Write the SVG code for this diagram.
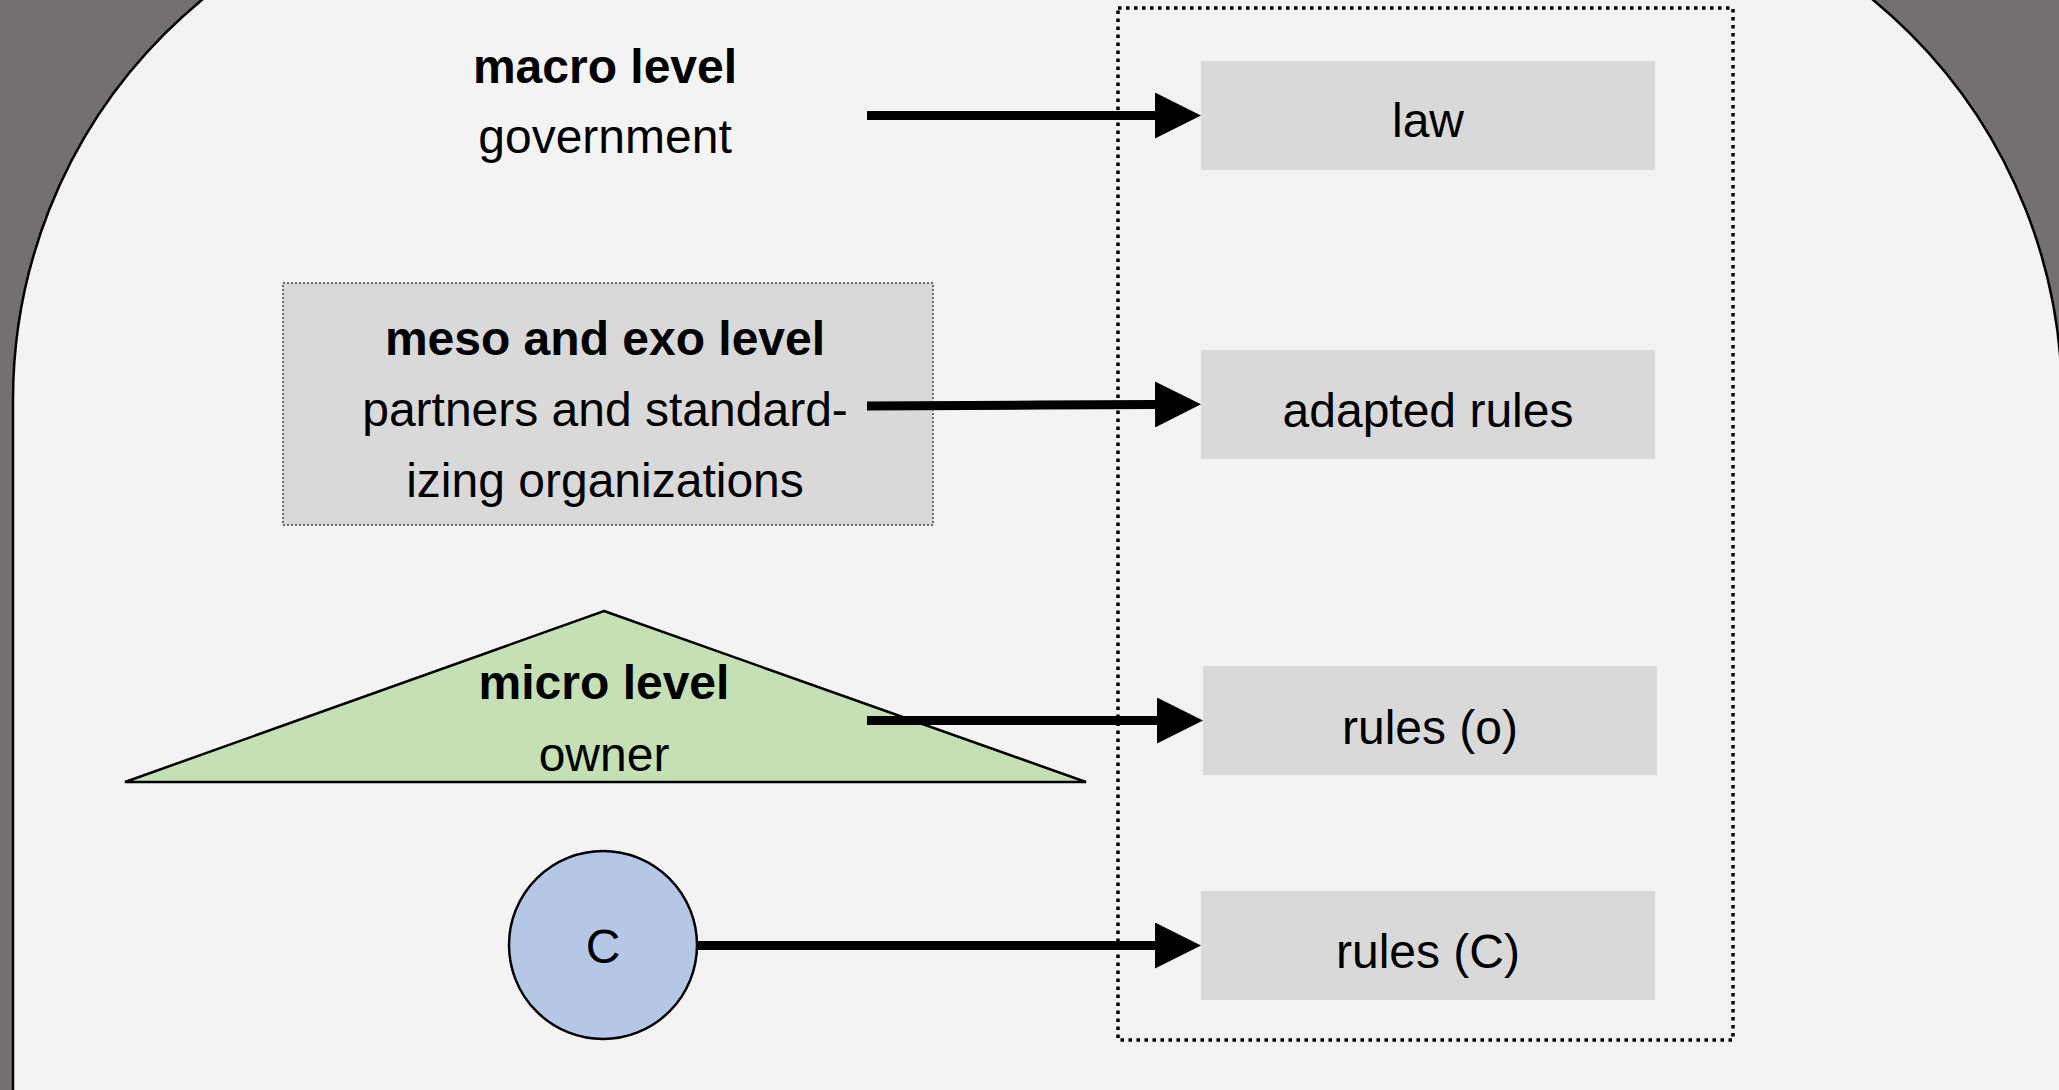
<svg xmlns="http://www.w3.org/2000/svg" width="2059" height="1090" viewBox="0 0 2059 1090">
  <defs>
    <style>
      .t { font-family: "Liberation Sans", Arial, sans-serif; font-size: 48px; fill: #000; text-anchor: middle; }
      .b { font-weight: bold; }
      .box { fill: #d9d9d9; }
      .conn { fill: none; stroke: #000; stroke-width: 9; }
    </style>
    <marker id="ah" viewBox="0 0 46 46" markerWidth="46" markerHeight="46" refX="0" refY="23" orient="auto" markerUnits="userSpaceOnUse">
      <path d="M0,0 L46,23 L0,46 Z" fill="#000"/>
    </marker>
  </defs>

  <rect x="0" y="0" width="2059" height="1090" fill="#747070"/>
  <path id="frame" d="M13,1100 V400 A518,518 0 0 1 531,-118 H1544 A518,518 0 0 1 2062,400 V1100 Z" fill="#f3f3f3" stroke="#000" stroke-width="2.5"/>

  <g id="container">
    <rect x="1118" y="8" width="615" height="1032" fill="none" stroke="#000" stroke-width="3.5" stroke-dasharray="3.5 4.5"/>
  </g>

  <g id="macro">
    <text class="t b" x="605" y="83">macro level</text>
    <text class="t" x="605" y="153">government</text>
  </g>

  <g id="meso">
    <rect x="283" y="283" width="650" height="242" fill="#d9d9d9" stroke="#444" stroke-width="1.5" stroke-dasharray="2 2"/>
    <text class="t b" x="605" y="355">meso and exo level</text>
    <text class="t" x="605" y="426">partners and standard-</text>
    <text class="t" x="605" y="497">izing organizations</text>
  </g>

  <g id="micro">
    <polygon points="604,611 1086,782 125,782" fill="#c5e0b4" stroke="#000" stroke-width="2.5"/>
    <text class="t b" x="604" y="699">micro level</text>
    <text class="t" x="604" y="771">owner</text>
  </g>

  <g id="c-node">
    <circle cx="603" cy="945" r="94" fill="#b4c7e7" stroke="#000" stroke-width="2.5"/>
    <text class="t" x="603" y="963">C</text>
  </g>

  <g id="law">
    <rect class="box" x="1201" y="61" width="454" height="109"/>
    <text class="t" x="1428" y="137">law</text>
  </g>

  <g id="adapted-rules">
    <rect class="box" x="1201" y="350" width="454" height="109"/>
    <text class="t" x="1428" y="427">adapted rules</text>
  </g>

  <g id="rules-o">
    <rect class="box" x="1203" y="666" width="454" height="109"/>
    <text class="t" x="1430" y="744">rules (o)</text>
  </g>

  <g id="rules-c">
    <rect class="box" x="1201" y="891" width="454" height="109"/>
    <text class="t" x="1428" y="968">rules (C)</text>
  </g>

  <g id="connectors">
    <path class="conn" d="M867,115.5 L1155,115.5" marker-end="url(#ah)"/>
    <path class="conn" d="M867,406 L1040,405 L1155,404.5" marker-end="url(#ah)"/>
    <path class="conn" d="M867,720.5 L1157,720.5" marker-end="url(#ah)"/>
    <path class="conn" d="M696,945.5 L1155,945.5" marker-end="url(#ah)"/>
  </g>
</svg>
